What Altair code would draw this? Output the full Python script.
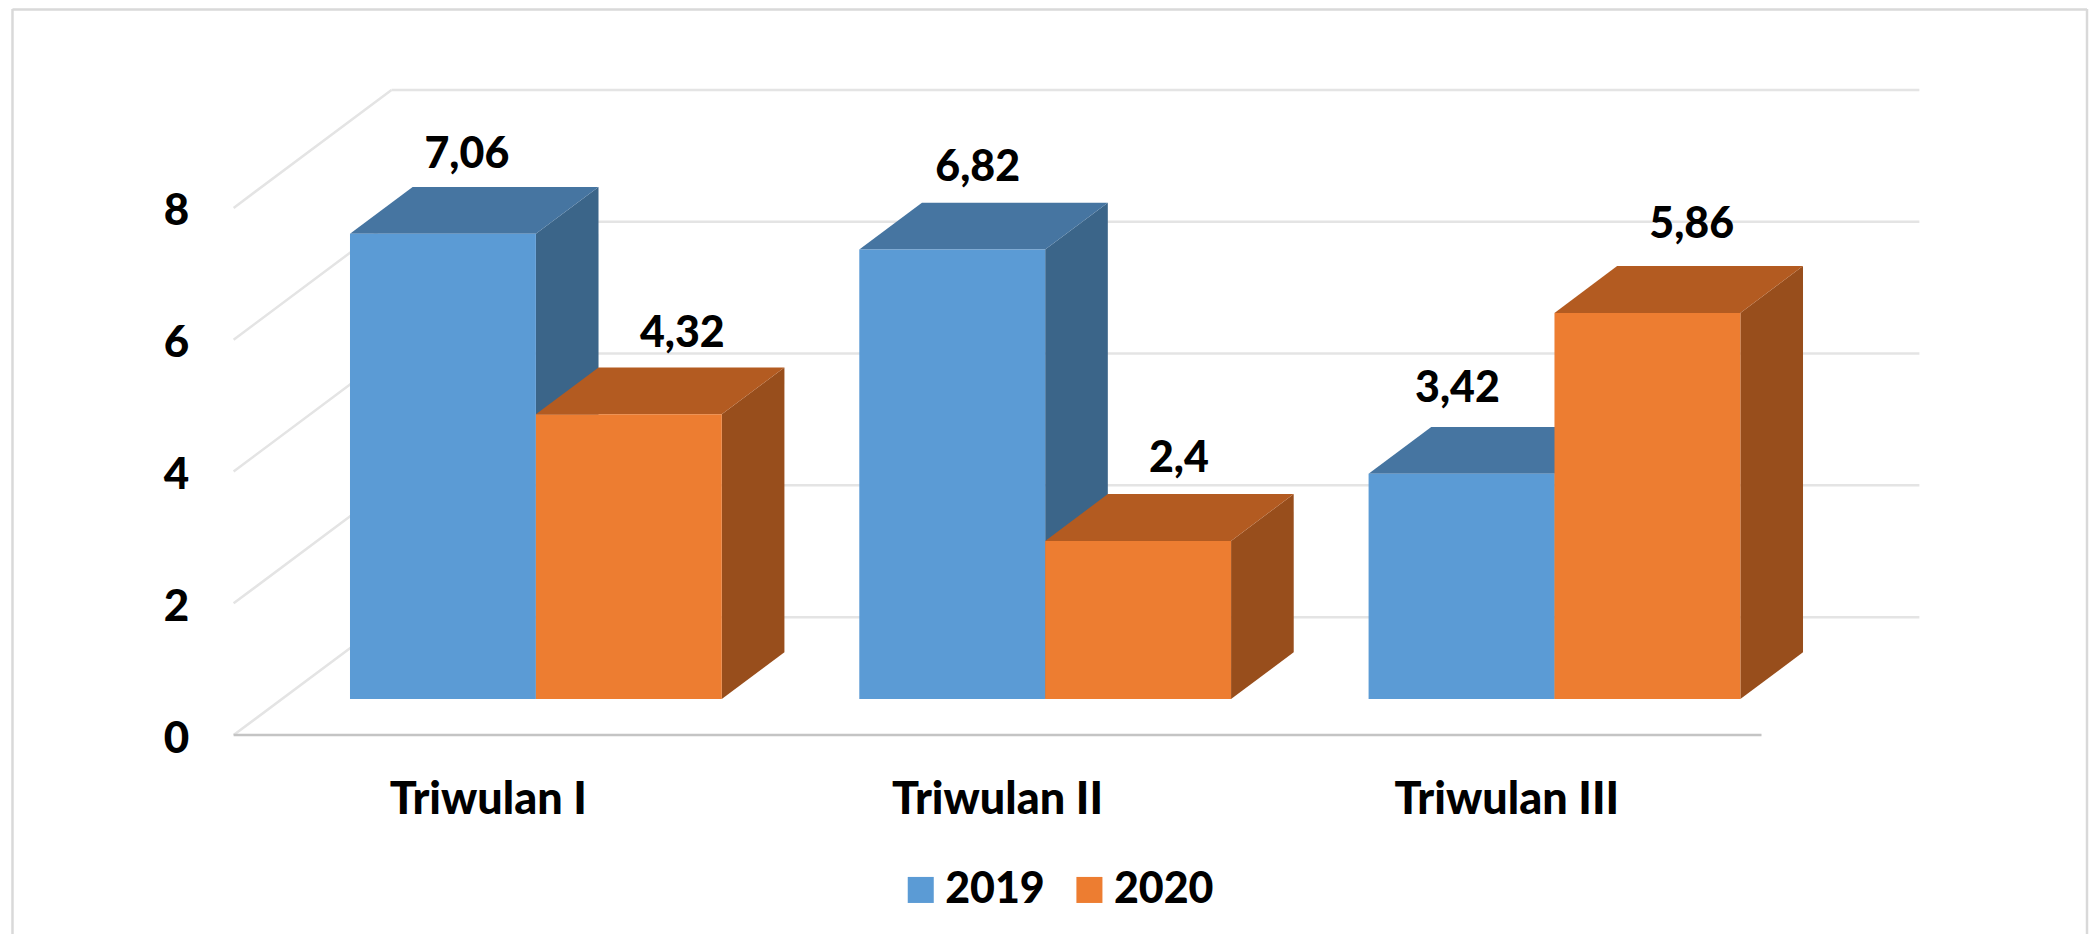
import altair as alt
import pandas as pd

categories = ["Triwulan I", "Triwulan II", "Triwulan III"]
years = ["2019", "2020"]
values_2019 = [7.06, 6.82, 3.42]
values_2020 = [4.32, 2.4, 5.86]
label_2019 = ["7,06", "6,82", "3,42"]
label_2020 = ["4,32", "2,4", "5,86"]
y_ticks = [0, 2, 4, 6, 8]

# pseudo-3D geometry, expressed in axis units
DX, DY = 0.31, 1.79
BAR_W = 0.365
BAR_START = 0.2285
BASE_Y = 0.547
BAR_DX, BAR_DY = 0.123, 0.71
# hand placement of the data labels (as in the source chart)
nudge_x = {"2019": [0.047, 0.05, -0.008], "2020": [0.105, 0.08, 0.087]}
nudge_y = {"2019": [1.2, 1.24, 1.28], "2020": [1.22, 1.24, 1.34]}

W, H = 2086, 927
XDOM = [-0.443, 3.645]
YDOM = [-3.02, 11.02]
FONT = "Lato"
WEIGHT = 900

fronts, tops, sides, labels = [], [], [], []
for yi, (yr, vals, labs) in enumerate(zip(years, [values_2019, values_2020], [label_2019, label_2020])):
    for ci, (v, lab) in enumerate(zip(vals, labs)):
        x0 = ci + BAR_START + yi * BAR_W
        x1 = x0 + BAR_W
        y0 = BASE_Y
        y1 = BASE_Y + v
        key = f"{yr}-{ci}"
        fronts.append(dict(year=yr, x=x0, x2=x1, y=y0, y2=y1))
        tops += [
            dict(year=yr, k=key, y=y1, x=x0, x2=x1),
            dict(year=yr, k=key, y=y1 + BAR_DY, x=x0 + BAR_DX, x2=x1 + BAR_DX),
        ]
        sides += [
            dict(year=yr, k=key, x=x1, y=y0, y2=y1),
            dict(year=yr, k=key, x=x1 + BAR_DX, y=y0 + BAR_DY, y2=y1 + BAR_DY),
        ]
        labels.append(dict(year=yr, x=(x0 + x1) / 2 + nudge_x[yr][ci], y=y1 + nudge_y[yr][ci], t=lab))

fronts = pd.DataFrame(fronts)
tops = pd.DataFrame(tops)
sides = pd.DataFrame(sides)
labels = pd.DataFrame(labels)

grid = []
for v in y_ticks:
    grid += [dict(k=f"b{v}", x=DX, y=v + DY), dict(k=f"b{v}", x=3 + DX, y=v + DY)]
    grid += [dict(k=f"d{v}", x=0, y=v), dict(k=f"d{v}", x=DX, y=v + DY)]
grid = pd.DataFrame(grid)
floor = pd.DataFrame([dict(x=0, y=0), dict(x=3, y=0)])
cats = pd.DataFrame(dict(x=[i + 0.5 for i in range(3)], y=[-0.99] * 3, t=categories))

xs = alt.Scale(domain=XDOM, nice=False, zero=False)
ys = alt.Scale(domain=YDOM, nice=False, zero=False)
y_axis = alt.Axis(values=y_ticks, grid=False, ticks=False, domain=False, offset=-181, labelPadding=0,
                  labelFont=FONT, labelFontWeight=WEIGHT, labelFontSize=44, labelColor="black",
                  labelBaseline="middle", labelOverlap=False, labelFlush=False, labelOffset=4)
X = lambda f="x": alt.X(f"{f}:Q", scale=xs, axis=None, stack=None)
Y = lambda f="y": alt.Y(f"{f}:Q", scale=ys, stack=None, title=None, axis=y_axis)

color = alt.Color("year:N", scale=alt.Scale(domain=years, range=["#5B9BD5", "#ED7D31"]),
                  legend=alt.Legend(orient="none", legendX=893, legendY=861, direction="horizontal",
                                    title=None, symbolType="square", symbolSize=680, symbolStrokeWidth=0,
                                    labelFont=FONT, labelFontWeight=WEIGHT, labelFontSize=43,
                                    labelColor="black", labelOffset=3, columnPadding=23, symbolOpacity=1))

def bar_layers(yr, top_col, side_col):
    s = alt.Chart(sides[sides.year == yr]).mark_area(orient="vertical", color=side_col).encode(
        x=X(), y=Y(), y2="y2:Q", detail="k:N")
    t = alt.Chart(tops[tops.year == yr]).mark_area(orient="horizontal", color=top_col).encode(
        y=Y(), x=X(), x2="x2:Q", detail="k:N")
    f = alt.Chart(fronts[fronts.year == yr]).mark_rect(strokeWidth=0).encode(
        x=X(), x2="x2:Q", y=Y(), y2="y2:Q", color=color)
    return [s, t, f]

grid_layer = alt.Chart(grid).mark_line(color="#E4E4E4", strokeWidth=2.5).encode(x=X(), y=Y(), detail="k:N")
floor_layer = alt.Chart(floor).mark_line(color="#C4C4C4", strokeWidth=2.5).encode(x=X(), y=Y())

lab_layer = alt.Chart(labels).mark_text(font=FONT, fontWeight=WEIGHT, fontSize=43, color="black",
                                        baseline="middle", align="center").encode(x=X(), y=Y(), text="t:N")
cat_layer = alt.Chart(cats).mark_text(font=FONT, fontWeight=WEIGHT, fontSize=45, color="black",
                                      baseline="middle", align="center").encode(x=X(), y=Y(), text="t:N")

frame_src = pd.DataFrame(dict(a=[0]))
frame = [
    alt.Chart(frame_src).mark_rule(color="#D9D9D9", strokeWidth=2.5).encode(x=alt.value(4.5), y=alt.value(0), y2=alt.value(H)),
    alt.Chart(frame_src).mark_rule(color="#D9D9D9", strokeWidth=2.5).encode(x=alt.value(2083), y=alt.value(0), y2=alt.value(H)),
    alt.Chart(frame_src).mark_rule(color="#D9D9D9", strokeWidth=2.5).encode(x=alt.value(4.5), x2=alt.value(2083), y=alt.value(0.5)),
]

chart = alt.layer(
    grid_layer, floor_layer, *frame,
    *bar_layers("2019", "#4675A1", "#3B6589"),
    *bar_layers("2020", "#B35B21", "#984E1C"),
    lab_layer, cat_layer,
).resolve_scale(x="shared", y="shared", color="shared").properties(
    width=W, height=H, padding=0, autosize=alt.AutoSizeParams(type="none"), background="white",
).configure_view(stroke=None)

chart.save("out.html", embed_options={"renderer": "svg", "actions": False})
